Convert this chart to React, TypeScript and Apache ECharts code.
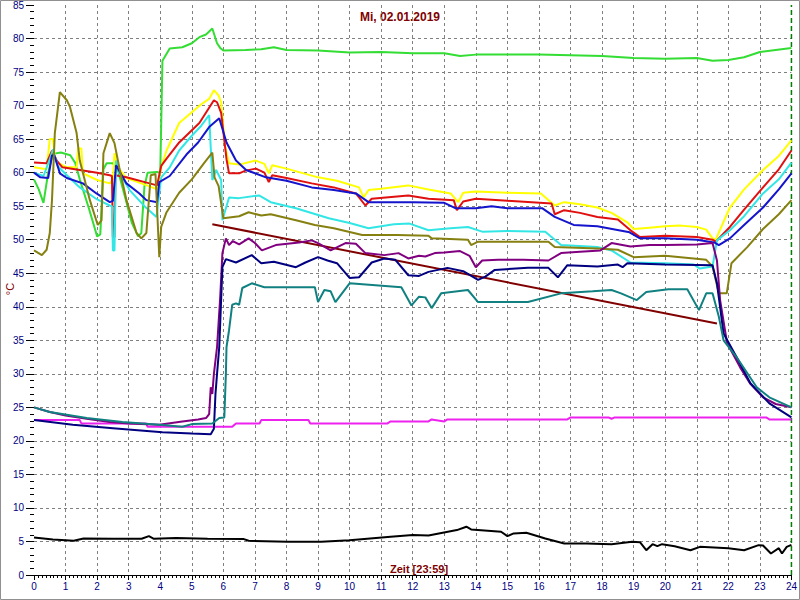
import React, { useEffect, useRef } from "react";
import * as echarts from "echarts";

const titleText = "Mi, 02.01.2019";
const xName = "Zeit [23:59]";
const yName = "°C";

const greenData = [[0,59],[0.15,57.5],[0.3,55.5],[0.45,60],[0.6,62.8],[0.85,63],[1.15,62.6],[1.3,61.5],[1.45,59],[1.75,54.5],[2.0,50.5],[2.1,50.8],[2.2,60.5],[2.3,61.4],[2.5,61.4],[2.65,60.5],[2.85,57],[3.1,52.5],[3.3,50.5],[3.4,51],[3.5,58],[3.6,60],[3.9,60.1],[4.0,60],[4.07,76.7],[4.3,78.5],[4.7,78.7],[5.0,79.3],[5.24,80.2],[5.45,80.6],[5.65,81.5],[5.8,79.3],[5.9,78.6],[6.0,78.2],[6.7,78.3],[7.2,78.4],[7.6,78.7],[8.0,78.3],[9.0,78.2],[10,77.9],[11,78],[12,77.8],[13,77.8],[13.5,77.4],[14,77.6],[15,77.6],[16,77.6],[17,77.5],[18,77.4],[19,77.1],[20,77.0],[21,77.1],[21.5,76.7],[22,76.8],[22.5,77.2],[23,78],[23.5,78.3],[24,78.6]];

const yellowData = [[0,60.8],[0.4,60.5],[0.5,65],[0.6,65],[0.66,62.3],[0.77,61.4],[1.04,60.8],[1.35,60.8],[1.4,63.6],[1.5,63.6],[1.55,59.9],[2.0,58.9],[2.4,58.4],[2.5,59],[2.55,62.9],[2.62,61],[2.93,59.2],[3.4,58.4],[3.75,57.8],[3.9,57.5],[4.03,60.8],[4.2,63.3],[4.6,67.4],[5.0,69],[5.3,70.2],[5.55,71],[5.7,72.3],[5.85,71.5],[5.93,70.5],[6.05,64],[6.18,61.4],[6.5,61.2],[7.03,61.8],[7.3,61.3],[7.44,59.9],[7.55,61.1],[8,60.6],[9,59.3],[9.6,58.8],[10.3,57.8],[10.44,56.3],[10.6,57.4],[11,57.6],[11.86,58.1],[12.5,57.5],[13.2,56.9],[13.44,55.6],[13.6,57],[14,57.2],[15,57.0],[16.06,56.9],[16.5,55.1],[16.8,55.6],[17.3,55.3],[17.85,54.8],[18.3,54],[18.8,52.6],[19.0,51.6],[19.5,51.8],[20,52],[20.5,52.1],[21,51.9],[21.3,51.5],[21.5,50.2],[21.6,50],[22.05,54.8],[22.5,57.5],[23.1,60.4],[23.6,62.5],[24,64.8]];

const redData = [[0,61.5],[0.4,61.4],[0.57,63.3],[0.72,61.8],[0.9,60.8],[1.45,60.4],[2.0,60],[2.4,59.6],[2.47,59.5],[2.5,50.4],[2.55,50.4],[2.58,59.6],[2.93,59.3],[3.66,58.4],[3.9,58.1],[4.03,61],[4.2,62.1],[4.6,64.5],[5.24,67.4],[5.7,70.8],[5.8,70.5],[5.93,68.9],[6.1,62],[6.18,59.9],[6.5,59.9],[6.7,60.3],[7.03,60.6],[7.3,60],[7.44,58.6],[7.55,59.6],[8,59.2],[8.8,58.4],[9.5,57.8],[10.2,56.9],[10.5,55.1],[10.7,56.1],[11.86,56.6],[12.5,56.1],[13.3,55.9],[13.4,54.4],[13.6,55.7],[14.0,56.1],[15,55.8],[16.4,55.4],[16.5,53.8],[16.8,54.4],[17.3,54],[17.85,53.4],[18.5,53],[18.9,51.4],[19.2,50.4],[20,50.6],[21,50.4],[21.5,50],[21.6,49.7],[22.05,51.9],[22.5,54.5],[23.1,57.8],[23.6,60.5],[24,63.3]];

const cyanData = [[0,60],[0.3,59.5],[0.5,62],[0.6,63.5],[0.75,61],[1.0,59.8],[1.45,57.8],[2.0,56],[2.4,55.1],[2.47,55],[2.5,48.4],[2.55,48.4],[2.6,61.8],[2.7,60],[3.03,57.4],[3.5,55],[3.88,53.4],[4.03,59.3],[4.3,60.8],[4.6,63.3],[5.0,65.5],[5.3,67],[5.55,68.6],[5.65,58.9],[5.77,60.4],[5.93,58.9],[5.97,52.9],[6.18,56.3],[6.5,56.2],[7.13,56.6],[7.5,55.6],[8.3,54.7],[9.34,53.2],[10,52.5],[10.6,51.7],[11.4,52.3],[11.9,52.4],[12.5,51.4],[13.2,51.7],[13.75,51.9],[14.2,51.2],[15,51.3],[16.2,51.2],[16.7,49.2],[17.85,48.9],[18.3,48.4],[18.9,46.6],[20,46.5],[20.9,46.3],[21.1,45.7],[21.5,46],[21.64,49.9],[22.05,51.4],[22.5,53.5],[23.1,56.9],[23.6,59],[24,61.5]];

const blueData = [[0,60],[0.2,59.3],[0.45,59.2],[0.57,62.6],[0.65,62.5],[0.82,59.9],[1.04,59.2],[1.55,58.4],[1.98,56.9],[2.4,55.6],[2.5,55.8],[2.6,61.1],[2.93,58.4],[3.34,56.9],[3.56,55.9],[3.9,55.6],[3.97,58.6],[4.3,59.5],[4.83,62.7],[5.2,64.5],[5.55,66.8],[5.87,68.1],[6.1,64.5],[6.4,61.8],[6.72,60.4],[7.35,59.3],[8,58.8],[8.8,57.8],[9.5,57.4],[10.2,56.9],[10.6,55.6],[12,55.6],[13.0,55.5],[13.35,54.7],[14,54.7],[14.5,55],[15,54.7],[16.1,54.7],[16.5,53.4],[17.1,52.2],[17.85,52],[18.87,51.1],[19.2,50.2],[20,50.2],[21,50],[21.55,49.6],[21.7,49.2],[22.05,50.2],[22.5,52.2],[23.1,54.8],[23.6,57.5],[24,59.9]];

const oliveData = [[0,48.4],[0.25,47.7],[0.4,48.5],[0.5,51],[0.57,55.9],[0.66,65.9],[0.82,72],[1.04,70.8],[1.14,69.8],[1.35,65.9],[1.45,61.8],[1.77,55.9],[2.02,52.2],[2.14,52.9],[2.2,62.9],[2.4,65.9],[2.55,64.4],[2.7,60.8],[2.93,55.9],[3.25,51],[3.4,50.2],[3.56,51],[3.7,59.6],[3.85,59.8],[3.97,47.4],[4.03,51.9],[4.2,54.1],[4.6,57],[5.0,59],[5.4,61.5],[5.65,63],[5.72,59.3],[5.85,58],[6.0,53.2],[6.5,53.5],[6.8,54.1],[7.2,53.6],[7.5,53.8],[8.3,52.9],[8.9,52.2],[9.5,51.7],[10.4,50.7],[11.5,50.7],[12.5,50.6],[12.6,50.2],[13.75,50],[13.85,49.2],[14.07,49.7],[16.3,49.7],[16.5,48.9],[17.85,48.7],[18.5,48.5],[19.0,47.4],[20,47.6],[20.9,47.2],[21.3,47],[21.5,46],[21.7,42],[21.95,42],[22.1,46.5],[22.6,48.9],[23.1,51.6],[23.6,53.8],[24,55.9]];

const purpleData = [[0,25],[0.5,24.3],[1.0,23.8],[1.67,23.3],[2.4,22.8],[3.0,22.6],[3.97,22.4],[4.7,22.9],[5.2,23.2],[5.45,23.4],[5.55,24],[5.6,28],[5.65,27],[5.7,30],[5.8,34],[5.9,41.4],[5.97,48],[6.08,50.2],[6.18,49.2],[6.3,49.8],[6.5,49.3],[6.8,50.2],[7.0,49.5],[7.22,48.4],[7.66,49.2],[8.4,49.6],[8.8,49.9],[9.0,49.5],[9.4,48.4],[9.87,49.5],[10.2,49.4],[10.5,48],[11.1,47.7],[11.55,48],[11.86,47.2],[12.2,47.6],[12.4,47.5],[12.7,48],[13.0,48.1],[13.5,48.3],[13.8,47.6],[14.0,45.9],[14.2,46.9],[14.7,47],[15.5,47],[16.3,46.9],[16.7,48],[17.3,48.2],[17.95,48.4],[18.3,49.5],[18.9,49],[19.5,49.2],[20,49.2],[21,49.3],[21.5,49.5],[21.64,46.9],[21.74,41],[21.96,34.6],[22.37,31],[22.7,28.5],[23.1,26.5],[23.5,25.5],[24,25]];

const navyData = [[0,23.1],[1.23,22.4],[2.5,21.9],[4.07,21.3],[5.0,21.1],[5.6,21],[5.7,21.8],[5.75,27],[5.8,30],[5.87,34],[5.97,45.9],[6.08,47.1],[6.4,46.6],[6.9,47.7],[7.2,46.5],[7.6,46.7],[8.3,45.9],[8.6,46.6],[9.0,47.4],[9.3,46.9],[9.6,46.5],[10,44.3],[10.3,44.4],[10.7,46.6],[11.1,47.2],[11.45,47],[11.86,44.7],[12.2,44.6],[12.5,45.2],[13.1,45.8],[13.6,45.3],[14.07,44],[14.3,44.5],[14.6,45.5],[15.65,45.8],[16.3,45.8],[16.6,44.4],[16.9,46.2],[17.85,46],[18.5,46.3],[18.65,45.9],[18.8,46.5],[20,46.3],[21.5,46.2],[21.64,43.5],[21.85,36],[22.26,32.5],[22.7,28.6],[23.3,25.6],[24,23.5]];

const tealData = [[0,25],[0.5,24.3],[1.67,23.4],[2.8,22.8],[3.97,22.4],[4.7,22.1],[5.0,22.5],[5.65,22.6],[5.87,23.4],[6.03,23.5],[6.08,30],[6.1,34],[6.18,36.5],[6.28,40.3],[6.4,40.5],[6.5,40.3],[6.6,42.8],[6.9,43.5],[7.3,42.9],[8.9,42.9],[9.0,40.7],[9.2,42.5],[9.4,42.3],[9.55,40.7],[10,43.5],[11.64,42.9],[11.96,40.2],[12.2,41.5],[12.4,41.4],[12.6,39.8],[12.9,42],[13.75,42.5],[14.07,40.7],[15.65,40.7],[16.7,42],[17.7,42.3],[18.3,42.5],[18.6,42],[19.1,41],[19.4,42.2],[20.1,42.6],[20.7,42.6],[21.07,39.5],[21.3,42],[21.5,42],[21.7,38.5],[21.85,35],[22.26,32.5],[22.9,28],[23.3,26.5],[24,25]];

const magentaData = [[0,23.1],[1.45,23.1],[1.5,22.6],[3.55,22.6],[3.6,22.1],[6.28,22.1],[6.4,22.6],[7.15,22.6],[7.2,23.1],[8.7,23.1],[8.75,22.6],[11.2,22.6],[11.3,22.9],[12.5,22.9],[12.6,23.2],[13,22.9],[13.1,23.2],[16.9,23.2],[17,23.5],[18.2,23.5],[18.3,23.3],[18.4,23.5],[23.2,23.5],[23.3,23.2],[24,23.2]];

const maroonData = [[5.65,52.3],[21.64,37.5]];

const blackData = [[0,5.6],[0.6,5.3],[1.26,5.1],[1.57,5.45],[2.5,5.4],[3.41,5.4],[3.64,5.8],[3.8,5.4],[4.5,5.5],[5.5,5.4],[6.65,5.35],[6.8,5.1],[8.03,4.95],[9.1,4.95],[10.0,5.2],[10.65,5.45],[11.3,5.7],[12.0,5.95],[12.5,5.9],[12.95,6.3],[13.4,6.7],[13.7,7.2],[13.85,6.8],[14.8,6.45],[15.0,5.8],[15.2,6.2],[15.6,6.3],[16.2,5.45],[16.8,4.7],[17.5,4.7],[18.3,4.6],[18.95,4.95],[19.2,4.9],[19.4,3.7],[19.6,4.6],[19.75,4.3],[19.9,4.6],[20.3,4.3],[20.8,3.7],[21.1,4.2],[22,4.0],[22.5,3.7],[22.96,4.45],[23.1,4.4],[23.35,3.2],[23.6,4.0],[23.7,3.2],[23.85,4.2],[24,4.5]];

const endMarkerData = [[24,0],[24,85]];

const seriesList = [
  { name: "green", color: "#33dd33", data: greenData },
  { name: "yellow", color: "#ffff00", data: yellowData },
  { name: "red", color: "#e01010", data: redData },
  { name: "cyan", color: "#33e6e6", data: cyanData },
  { name: "blue", color: "#1414cc", data: blueData },
  { name: "olive", color: "#858010", data: oliveData },
  { name: "magenta", color: "#ee22ee", data: magentaData },
  { name: "maroon", color: "#800000", data: maroonData },
  { name: "purple", color: "#800080", data: purpleData },
  { name: "navy", color: "#000080", data: navyData },
  { name: "teal", color: "#108080", data: tealData },
  { name: "black", color: "#000000", data: blackData },
];

const FONT = "Liberation Sans, Arial, sans-serif";

export default function App() {
  const ref = useRef<HTMLDivElement>(null);
  useEffect(() => {
    if (!ref.current) return;
    const chart = echarts.init(ref.current, undefined, { renderer: "svg" });
    const series: any[] = seriesList.map((s, i) => ({
      name: s.name,
      type: "line",
      data: s.data,
      showSymbol: false,
      symbol: "none",
      clip: false,
      lineStyle: { color: s.color, width: 2 },
      itemStyle: { color: s.color },
      z: 2 + i,
    }));
    series.push({
      name: "end",
      type: "line",
      data: endMarkerData,
      showSymbol: false,
      symbol: "none",
      clip: false,
      lineStyle: { color: "#008000", width: 1.5, type: [5, 3] },
      z: 1,
    });
    chart.setOption({
      animation: false,
      backgroundColor: "#ffffff",
      grid: { left: 34, right: 5, top: 4, bottom: 25, containLabel: false },
      xAxis: {
        type: "value",
        min: 0,
        max: 24,
        interval: 1,
        axisLine: { show: true, lineStyle: { color: "#000000", width: 1 } },
        axisTick: { show: true, length: 5, lineStyle: { color: "#000000" } },
        minorTick: { show: true, splitNumber: 8, length: 3, lineStyle: { color: "#000000" } },
        axisLabel: { color: "#000080", fontSize: 10, fontFamily: FONT, margin: 6 },
        splitLine: {
          show: true,
          showMinLine: false,
          showMaxLine: false,
          lineStyle: { color: "#808080", type: [3, 3], width: 1 },
        },
      },
      yAxis: {
        type: "value",
        min: 0,
        max: 85,
        interval: 5,
        axisLine: { show: false },
        axisTick: { show: true, length: 8, lineStyle: { color: "#000000" } },
        minorTick: { show: true, splitNumber: 5, length: 4, lineStyle: { color: "#000000" } },
        axisLabel: { color: "#000080", fontSize: 10, fontFamily: FONT, margin: 10 },
        splitLine: {
          show: true,
          showMinLine: false,
          showMaxLine: false,
          lineStyle: { color: "#808080", type: [3, 3], width: 1 },
        },
      },
      graphic: [
        {
          type: "rect",
          silent: true,
          shape: { x: 0.5, y: 0.5, width: 799, height: 599 },
          style: { fill: "none", stroke: "#909090", lineWidth: 1 },
          z: 100,
        },
        {
          type: "text",
          x: 400,
          y: 17,
          style: {
            text: titleText,
            fill: "#800000",
            font: `bold 12px ${FONT}`,
            align: "center",
            verticalAlign: "middle",
          },
        },
        {
          type: "text",
          x: 390,
          y: 569,
          style: {
            text: xName,
            fill: "#800000",
            font: `bold 11px ${FONT}`,
            align: "left",
            verticalAlign: "middle",
          },
        },
        {
          type: "text",
          x: 10,
          y: 289,
          rotation: Math.PI / 2,
          style: {
            text: yName,
            fill: "#800000",
            font: `11px ${FONT}`,
            align: "center",
            verticalAlign: "middle",
          },
        },
      ],
      series,
    });
    return () => chart.dispose();
  }, []);
  return (
    <div
      ref={ref}
      style={{ position: "absolute", left: 0, top: 0, width: 800, height: 600, background: "#fff" }}
    />
  );
}
